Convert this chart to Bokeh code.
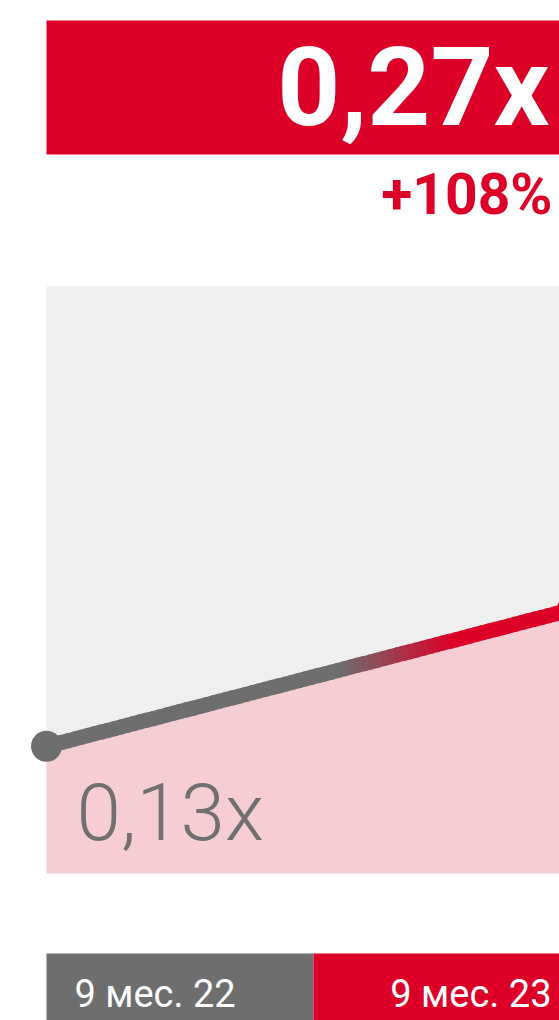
from bokeh.plotting import figure
from bokeh.models import Range1d
from bokeh.core.properties import value
from bokeh.embed import file_html
from bokeh.resources import INLINE

# ---- data ----
periods = ["9 мес. 22", "9 мес. 23"]
values = [0.13, 0.27]
value_labels = ["0,13x", "0,27x"]
change_label = "+108%"
panel_top = 0.6

# ---- colours ----
RED = "#dc0028"
GRAY = "#6e6e6e"
PINK = "#f7cdd4"
PANEL = "#efefef"

xs = list(range(len(periods)))  # 0, 1

# page-pixel helpers (layout only)
X0, XS = 46.0, 526.0      # page x of x=0 and px per unit
Y0, YS = 873.0, 978.3     # page y of y=0 and px per unit
def px(x):
    return (x - X0) / XS
def py(y):
    return (Y0 - y) / YS

W, H = 559, 1020
p = figure(width=W, height=H, output_backend="svg", toolbar_location=None,
           x_range=Range1d(px(0), px(W)), y_range=Range1d(py(H), py(0)),
           x_axis_type=None, y_axis_type=None, min_border=0,
           outline_line_color=None, background_fill_color="white",
           border_fill_color="white")
p.xgrid.visible = False
p.ygrid.visible = False

# header box
p.quad(left=xs[0], right=px(620), bottom=py(154), top=py(20),
       fill_color=RED, line_color=None)
p.text(x=[px(549)], y=[py(87)], text=[value_labels[1]], text_color="white",
       text_font=value("Roboto"), text_font_style="bold", text_font_size="110px",
       text_align="right", text_baseline="alphabetic")
p.text(x=[px(552)], y=[py(193.5)], text=[change_label], text_color=RED,
       text_font=value("Roboto"), text_font_style="bold", text_font_size="57px",
       text_align="right", text_baseline="alphabetic")

# grey panel and pink area
p.quad(left=xs[0], right=px(620), bottom=0, top=panel_top,
       fill_color=PANEL, line_color=None)
p.varea(x=xs, y1=[0, 0], y2=values, fill_color=PINK)

# gradient line (gray -> red), drawn as short pieces of the straight line
def mix(c1, c2, f):
    a = [int(c1[i:i + 2], 16) for i in (1, 3, 5)]
    b = [int(c2[i:i + 2], 16) for i in (1, 3, 5)]
    return "#%02x%02x%02x" % tuple(round(a[k] + (b[k] - a[k]) * f) for k in range(3))

N = 80
ta, tb = 0.56, 0.77
x0s, y0s, x1s, y1s, cols = [], [], [], [], []
for i in range(N):
    t0 = i / N
    t1 = min(1.0, (i + 1.6) / N)
    tm = (i + 0.5) / N
    f = 0.0 if tm < ta else (1.0 if tm > tb else (tm - ta) / (tb - ta))
    x0s.append(xs[0] + (xs[1] - xs[0]) * t0)
    x1s.append(xs[0] + (xs[1] - xs[0]) * t1)
    y0s.append(values[0] + (values[1] - values[0]) * t0)
    y1s.append(values[0] + (values[1] - values[0]) * t1)
    cols.append(mix(GRAY, RED, f))
p.segment(x0=x0s, y0=y0s, x1=x1s, y1=y1s, line_color=cols, line_width=15,
          line_cap="butt")

p.scatter(x=[xs[0]], y=[values[0]], size=31, fill_color=GRAY, line_color=None)
p.scatter(x=[xs[1]], y=[values[1]], size=31, fill_color=RED, line_color=None)

p.text(x=[px(76)], y=[py(812)], text=[value_labels[0]], text_color="#707070",
       text_font=value("'Roboto Light', Roboto"), text_font_size="80px",
       text_align="left", text_baseline="alphabetic")

# bottom period bars
split = px(313)
p.quad(left=[xs[0], split], right=[split, px(620)], bottom=[py(1040)] * 2,
       top=[py(953)] * 2, fill_color=[GRAY, RED], line_color=None)
p.text(x=[px(74), px(551)], y=[py(993.5)] * 2, text=periods, text_color="white",
       text_font=value("Roboto"), text_font_size="38px",
       text_align=["left", "right"], text_baseline="alphabetic")

open("out.html", "w").write(file_html(p, INLINE))
